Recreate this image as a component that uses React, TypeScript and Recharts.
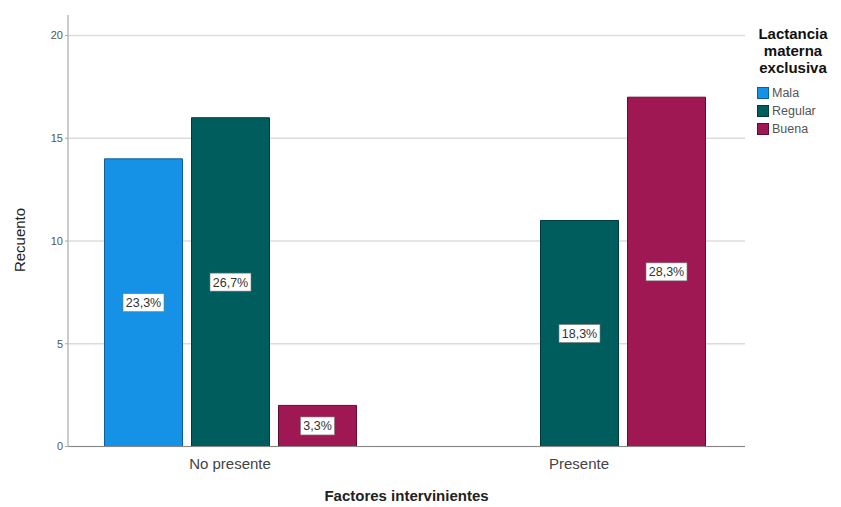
import React from "react";
import { BarChart, Bar, XAxis, YAxis, CartesianGrid, LabelList, Label } from "recharts";

const categories = ["No presente", "Presente"];
const mala = [14, null];
const regular = [16, 11];
const buena = [2, 17];
const malaPct = ["23,3%", ""];
const regularPct = ["26,7%", "18,3%"];
const buenaPct = ["3,3%", "28,3%"];
const yTicks = [0, 5, 10, 15, 20];

const series = [
  { key: "Mala", color: "#1592e6", stroke: "#0d5f98" },
  { key: "Regular", color: "#005d5d", stroke: "#003a3a" },
  { key: "Buena", color: "#9f1853", stroke: "#5e0e31" },
];

const data = categories.map((c, i) => ({
  cat: c,
  Mala: mala[i],
  Regular: regular[i],
  Buena: buena[i],
  MalaPct: malaPct[i],
  RegularPct: regularPct[i],
  BuenaPct: buenaPct[i],
}));

const FONT = "'Liberation Sans', Arial, sans-serif";

const PctLabel = (props: any) => {
  const { x, y, width, height, value } = props;
  if (!value) return null;
  const cx = x + width / 2;
  const cy = y + height / 2;
  const w = String(value).length * 7 + 6;
  const h = 18;
  return (
    <g>
      <rect x={cx - w / 2} y={cy - h / 2} width={w} height={h} fill="#ffffff" stroke="#777" strokeWidth={0.6} />
      <text x={cx} y={cy + 4.5} textAnchor="middle" fontSize={12.5} fontFamily={FONT} fill="#333">
        {value}
      </text>
    </g>
  );
};

export default function App() {
  return (
    <div style={{ position: "absolute", left: 0, top: 0, width: 841, height: 507, background: "#fff" }}>
      <BarChart
        width={841}
        height={507}
        data={data}
        margin={{ top: 15, right: 96, bottom: 0.5, left: 0 }}
        barSize={78}
        barGap={9}
      >
        <CartesianGrid vertical={false} stroke="#dcdcdc" strokeWidth={1.5} syncWithTicks />
        <XAxis
          dataKey="cat"
          height={60}
          padding={{ left: -12.5, right: -8.5 }}
          tickLine={false}
          axisLine={{ stroke: "#888", strokeWidth: 1 }}
          tick={{ fontSize: 15, fill: "#444", fontFamily: FONT }}
          tickMargin={6}
        >
          <Label
            value="Factores intervinientes"
            position="insideBottom"
            offset={6}
            style={{ fontSize: 15, fontWeight: "bold", fill: "#222", fontFamily: FONT }}
          />
        </XAxis>
        <YAxis
          width={68}
          domain={[0, 21]}
          ticks={yTicks}
          interval={0}
          tickSize={3}
          tickLine={{ stroke: "#aaa" }}
          axisLine={{ stroke: "#bbb", strokeWidth: 1.5 }}
          tick={{ fontSize: 11, fill: "#555", fontFamily: FONT }}
        >
          <Label
            content={() => (
              <text
                x={0}
                y={0}
                transform="translate(25,240) rotate(-90)"
                textAnchor="middle"
                fontSize={15}
                fontFamily={FONT}
                fill="#222"
              >
                Recuento
              </text>
            )}
          />
        </YAxis>
        {series.map((s) => (
          <Bar
            key={s.key}
            dataKey={s.key}
            fill={s.color}
            stroke={s.stroke}
            strokeWidth={1}
            isAnimationActive={false}
          >
            <LabelList dataKey={s.key + "Pct"} content={PctLabel} />
          </Bar>
        ))}
      </BarChart>
      <div
        style={{
          position: "absolute",
          left: 745,
          top: 25,
          width: 96,
          fontFamily: FONT,
        }}
      >
        <div
          style={{
            textAlign: "center",
            fontWeight: "bold",
            fontSize: 15,
            lineHeight: "17px",
            color: "#111",
          }}
        >
          Lactancia
          <br />
          materna
          <br />
          exclusiva
        </div>
        <div style={{ marginTop: 8, marginLeft: 12 }}>
          {series.map((s) => (
            <div key={s.key} style={{ display: "flex", alignItems: "center", height: 18 }}>
              <div
                style={{
                  width: 10,
                  height: 10,
                  background: s.color,
                  border: "1px solid " + s.stroke,
                  marginRight: 3,
                }}
              />
              <span style={{ fontSize: 12.5, color: "#555" }}>{s.key}</span>
            </div>
          ))}
        </div>
      </div>
    </div>
  );
}
